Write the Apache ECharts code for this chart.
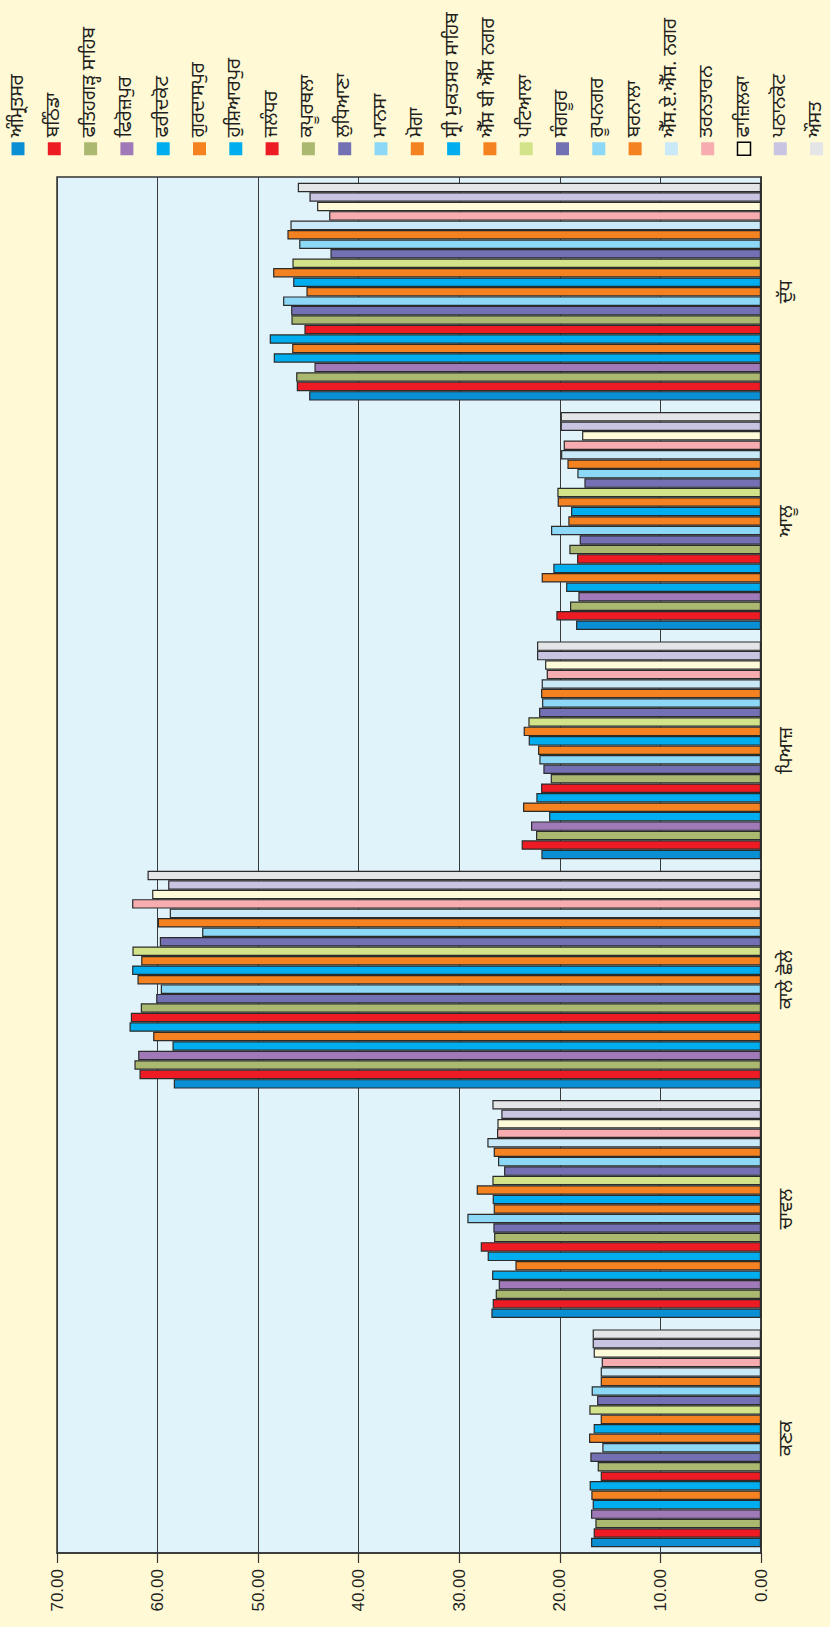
<!DOCTYPE html>
<html>
<head>
<meta charset="utf-8">
<script src="https://cdn.jsdelivr.net/npm/echarts@6/dist/echarts.min.js"></script>
<style>
	html, body { margin: 0; padding: 0; width: 830px; height: 1627px; overflow: hidden; background: #fff9d6; }
	#chart {
		position: absolute; left: 0; top: 0;
		width: 1627px; height: 830px;
		transform-origin: 0 0;
		transform: translate(0, 1627px) rotate(-90deg);
	}
</style>
</head>
<body>
<div id="chart"></div>
<script>
// crops (x axis, before the page is turned)
var categories = ['ਕਣਕ', 'ਚਾਵਲ', 'ਕਾਲੇ ਛੋਲੇ', 'ਪਿਆਜ਼', 'ਆਲੂ', 'ਦੁੱਧ'];

var districts = ['ਅੰਮ੍ਰਿਤਸਰ', 'ਬਠਿੰਡਾ', 'ਫਤਿਹਗੜ੍ਹ ਸਾਹਿਬ', 'ਫਿਰੋਜ਼ਪੁਰ', 'ਫਰੀਦਕੋਟ', 'ਗੁਰਦਾਸਪੁਰ',
	'ਹੁਸ਼ਿਆਰਪੁਰ', 'ਜਲੰਧਰ', 'ਕਪੂਰਥਲਾ', 'ਲੁਧਿਆਣਾ', 'ਮਾਨਸਾ', 'ਮੋਗਾ', 'ਸ੍ਰੀ ਮੁਕਤਸਰ ਸਾਹਿਬ',
	'ਐੱਸ ਬੀ ਐੱਸ ਨਗਰ', 'ਪਟਿਆਲਾ', 'ਸੰਗਰੂਰ', 'ਰੂਪਨਗਰ', 'ਬਰਨਾਲਾ', 'ਐੱਸ.ਏ.ਐੱਸ. ਨਗਰ',
	'ਤਰਨਤਾਰਨ', 'ਫਾਜ਼ਿਲਕਾ', 'ਪਠਾਨਕੋਟ', 'ਔਸਤ'];

var colors = ['#0a8fd4', '#ed1c24', '#abb870', '#a07ab8', '#00aeef', '#f58220',
	'#00aeef', '#ed1c24', '#abb870', '#7470b4', '#8dd7f7', '#f58220', '#00aeef',
	'#f58220', '#d3e38a', '#7470b4', '#8dd7f7', '#f58220', '#c9e9f9',
	'#f7adb0', '#fffbd8', '#c8c4e2', '#e4e5e7'];

// one value per district, same order as districts
var wheat  = [16.90, 16.64, 16.47, 16.90, 16.74, 16.87, 17.04, 15.94, 16.24, 16.97, 15.78, 17.10, 16.64, 15.94, 17.07, 16.30, 16.84, 15.94, 15.94, 15.84, 16.64, 16.74, 16.74];
var rice   = [26.81, 26.68, 26.38, 26.08, 26.74, 24.42, 27.18, 27.87, 26.54, 26.61, 29.20, 26.58, 26.68, 28.27, 26.71, 25.55, 26.15, 26.58, 27.21, 26.25, 26.21, 25.82, 26.71];
var gram   = [58.39, 61.80, 62.30, 61.93, 58.52, 60.44, 62.79, 62.66, 61.67, 60.14, 59.68, 62.00, 62.53, 61.63, 62.50, 59.78, 55.57, 59.98, 58.79, 62.53, 60.54, 58.95, 61.00];
var onion  = [21.84, 23.80, 22.37, 22.87, 21.07, 23.66, 22.34, 21.87, 20.91, 21.64, 22.04, 22.17, 23.10, 23.60, 23.13, 22.07, 21.77, 21.87, 21.81, 21.31, 21.47, 22.27, 22.27];
var potato = [18.39, 20.35, 18.99, 18.16, 19.38, 21.81, 20.65, 18.29, 19.06, 18.03, 20.88, 19.16, 18.89, 20.22, 20.25, 17.56, 18.26, 19.25, 19.88, 19.62, 17.79, 19.92, 19.92];
var milk   = [44.93, 46.16, 46.22, 44.40, 48.45, 46.62, 48.85, 45.40, 46.69, 46.72, 47.52, 45.20, 46.52, 48.51, 46.59, 42.81, 45.92, 47.09, 46.79, 42.94, 44.14, 44.90, 46.06];

var valueTicks = [0, 10, 20, 30, 40, 50, 60, 70];

var byCrop = [wheat, rice, gram, onion, potato, milk];
var punjabiFont = '"Noto Sans Gurmukhi", "Lohit Gurmukhi", Raavi, "Noto Sans", sans-serif';
var numFont = '"Liberation Sans", Arial, sans-serif';

var series = districts.map(function (name, i) {
	return {
		name: name,
		type: 'bar',
		barGap: 0,
		barCategoryGap: '5%',
		itemStyle: { color: colors[i], borderColor: '#2b2b2b', borderWidth: 1.2 },
		data: byCrop.map(function (crop) { return crop[i]; })
	};
});

var legendData = districts.map(function (name) {
	if (name === 'ਫਾਜ਼ਿਲਕਾ') {
		return { name: name, itemStyle: { borderColor: '#000', borderWidth: 1.5 } };
	}
	return { name: name };
});

var myChart = echarts.init(document.getElementById('chart'), null, { renderer: 'svg' });
var option = {
	backgroundColor: '#fff9d6',
	animation: false,
	legend: {
		orient: 'vertical',
		left: 1471,
		top: 8,
		padding: 0,
		itemWidth: 13,
		itemHeight: 13,
		itemGap: 16.3,
		icon: 'rect',
		itemStyle: { borderWidth: 0 },
		textStyle: { fontFamily: punjabiFont, fontSize: 19, lineHeight: 20, color: '#231f20' },
		data: legendData
	},
	grid: {
		left: 74, right: 177, top: 57, bottom: 69,
		show: true,
		backgroundColor: '#e0f3fb',
		borderColor: '#333',
		borderWidth: 1.5
	},
	xAxis: {
		type: 'category',
		data: categories,
		axisLine: { lineStyle: { color: '#333', width: 1.5 } },
		axisTick: { length: 11, lineStyle: { color: '#333', width: 1.2 } },
		axisLabel: { fontFamily: punjabiFont, fontSize: 19, color: '#231f20', margin: 17 }
	},
	yAxis: {
		type: 'value',
		min: valueTicks[0],
		max: valueTicks[valueTicks.length - 1],
		interval: 10,
		axisLine: { show: true, lineStyle: { color: '#333', width: 1.5 } },
		axisTick: { show: true, length: 10, lineStyle: { color: '#333', width: 1.2 } },
		splitLine: { lineStyle: { color: '#3a3a3a', width: 1 } },
		axisLabel: {
			fontFamily: numFont, fontSize: 17, color: '#231f20', margin: 16,
			formatter: function (v) { return v.toFixed(2); }
		}
	},
	series: series
};
myChart.setOption(option);
</script>
</body>
</html>
